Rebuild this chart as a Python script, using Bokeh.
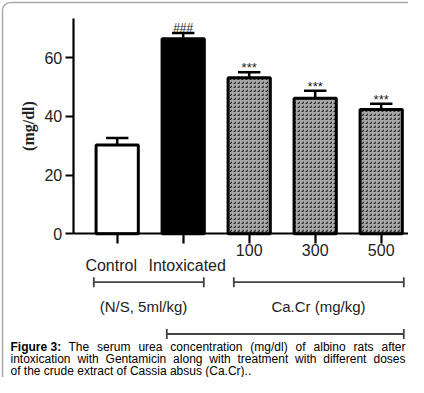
import math
from bokeh.plotting import figure
from bokeh.models import Range1d, LinearAxis, FixedTicker, ColumnDataSource
from bokeh.core.properties import value
from bokeh.embed import file_html
from bokeh.resources import INLINE

# ---------------- data ----------------
groups = ["Control", "Intoxicated", "100", "300", "500"]
means = [30.3, 66.5, 53.2, 46.2, 42.4]
sems = [2.4, 2.0, 1.9, 2.6, 1.9]
marks = ["", "###", "***", "***", "***"]
y_ticks = [0, 20, 40, 60]
y_label = "(mg/dl)"
group_labels = ["(N/S, 5ml/kg)", "Ca.Cr (mg/kg)"]
caption_bold = "Figure 3:"
caption_lines = [
    "The serum urea concentration (mg/dl) of albino rats after",
    "intoxication with Gentamicin along with treatment with different doses",
    "of the crude extract of Cassia absus (Ca.Cr)..",
]

# ---------------- layout (pixel geometry of the canvas) ----------------
W, H = 408, 377
PX_X = 66.0          # px per category step
X0 = 116.7           # px of first category centre
PX_Y = 2.933         # px per mg/dl
Y0 = 233.3           # px (from top) of value 0


def dx(px):
    return (px - X0) / PX_X


def dy(py):
    return (Y0 - py) / PX_Y


FONT = "Liberation Sans"

# Arial / Liberation Sans advance widths (1/1000 em) for caption justification
AW = {" ": 278, "(": 333, ")": 333, ".": 278, ",": 278, "/": 278, ":": 278,
      "a": 556, "b": 556, "c": 500, "d": 556, "e": 556, "f": 278, "g": 556, "h": 556,
      "i": 222, "j": 222, "k": 500, "l": 222, "m": 833, "n": 556, "o": 556, "p": 556,
      "q": 556, "r": 333, "s": 500, "t": 278, "u": 556, "v": 500, "w": 722, "x": 500,
      "y": 500, "z": 500, "A": 667, "C": 722, "G": 778, "T": 611, "F": 611}


def tw(s, size):
    return sum(AW.get(c, 556) for c in s) * size / 1000.0


p = figure(width=W, height=H, output_backend="svg", toolbar_location=None,
           x_axis_location=None, y_axis_location=None, min_border=0,
           x_range=Range1d(dx(0), dx(W)), y_range=Range1d(dy(H), dy(0)),
           outline_line_color=None)
p.grid.grid_line_color = None

# rounded outer frame (only the top/left edges fall inside the canvas)
FR = "#a8a8a8"
p.segment(x0=[dx(10), dx(2)], y0=[dy(2), dy(10)], x1=[dx(W + 5), dx(2)], y1=[dy(2), dy(H + 5)],
          line_color=FR, line_width=1.5)
p.arc(x=[dx(10)], y=[dy(10)], radius=8, radius_units="screen",
      start_angle=math.pi / 2, end_angle=math.pi, line_color=FR, line_width=1.5)

idx = list(range(len(groups)))
fills = ["white", "black", "#a8a8a8", "#a8a8a8", "#a8a8a8"]
hatches = [" ", " ", "right_diagonal_dash", "right_diagonal_dash", "right_diagonal_dash"]
err = [m + s for m, s in zip(means, sems)]
src = ColumnDataSource(dict(x=idx, top=means, fill=fills, hatch=hatches, err=err, mark=marks))

# error bars (upper half)
p.segment(x0="x", y0="top", x1="x", y1="err", source=src, line_color="black", line_width=2.5)
p.segment(x0=[i - 0.17 for i in idx], y0=err, x1=[i + 0.17 for i in idx],
          y1=err, line_color="black", line_width=2.5)

p.vbar(x="x", top="top", bottom=0, width=0.64, source=src, fill_color="fill",
       line_color="black", line_width=3, hatch_pattern="hatch", hatch_color="#1e1e1e",
       hatch_scale=4, hatch_weight=1.2)

# significance marks
hash_i = [i for i in idx if marks[i] == "###"]
star_i = [i for i in idx if marks[i] == "***"]
p.text(x=hash_i, y=[err[i] for i in hash_i], text=[marks[i] for i in hash_i],
       text_font=value(FONT), text_font_size="12px", text_align="center",
       text_baseline="alphabetic", y_offset=-5, text_color="#222222")
p.text(x=star_i, y=[err[i] for i in star_i], text=[marks[i] for i in star_i],
       text_font=value(FONT), text_font_size="13px", text_align="center",
       text_baseline="alphabetic", y_offset=-4.5, text_color="#222222")

# y axis
yax = LinearAxis(fixed_location=dx(72.7), bounds=(0, dy(18.3)),
                 ticker=FixedTicker(ticks=y_ticks),
                 axis_line_width=2.2, axis_line_color="black",
                 major_tick_line_width=2.2, major_tick_out=8, major_tick_in=0,
                 minor_tick_out=0, minor_tick_in=0,
                 major_label_text_font=FONT, major_label_text_font_size="16px",
                 major_label_text_color="#222222", major_label_standoff=3,
                 axis_label=y_label, axis_label_text_font="Liberation Serif",
                 axis_label_text_font_style="bold", axis_label_text_font_size="16px",
                 axis_label_text_color="#222222", axis_label_standoff=5)
p.add_layout(yax, "left")

# x axis
overrides = {i: (g if g.isdigit() else "") for i, g in zip(idx, groups)}
xax = LinearAxis(fixed_location=0, bounds=(dx(72.7), dx(409)),
                 ticker=FixedTicker(ticks=idx), major_label_overrides=overrides,
                 axis_line_width=2.2, axis_line_color="black",
                 major_tick_line_width=2.2, major_tick_out=10, major_tick_in=0,
                 minor_tick_out=0, minor_tick_in=0,
                 major_label_text_font=FONT, major_label_text_font_size="16px",
                 major_label_text_color="#222222", major_label_standoff=0)
p.add_layout(xax, "below")

# word labels under the first two ticks
word_idx = [i for i, g in zip(idx, groups) if not g.isdigit()]
p.text(x=word_idx, y=[dy(264.5)] * len(word_idx), text=[groups[i] for i in word_idx],
       x_offset=[-6, 4], text_font=value(FONT), text_font_size="16px",
       text_align="center", text_baseline="alphabetic", text_color="#222222")

# group brackets
brackets = [(93.3, 203.3, 281.7), (233.3, 403.3, 281.7), (166.3, 403.3, 333.5)]
for x_a, x_b, yb in brackets:
    p.segment(x0=[dx(x_a)], y0=[dy(yb)], x1=[dx(x_b)], y1=[dy(yb)], line_color="#444444", line_width=1.8)
    p.segment(x0=[dx(x_a), dx(x_b)], y0=[dy(yb - 5)] * 2, x1=[dx(x_a), dx(x_b)],
              y1=[dy(yb + 5)] * 2, line_color="#444444", line_width=1.8)
p.text(x=[dx(143), dx(318)], y=[dy(306)] * 2, text=group_labels, text_font=value(FONT),
       text_font_size="15px", text_align="center", text_baseline="alphabetic",
       text_color="#222222")

# caption (lines 1-2 justified, line 3 ragged)
CS = 12.0
base = [346.5, 358.5, 370.3]
starts = [68.0, 10.0, 10.0]
RIGHT = 405.0
p.text(x=[dx(10)], y=[dy(base[0])], text=[caption_bold], text_font=value(FONT),
       text_font_size=f"{CS}px", text_font_style="bold", text_baseline="alphabetic",
       text_color="black")
wx, wy, wt = [], [], []
for li, line in enumerate(caption_lines):
    words = line.split(" ")
    if li < 2:
        natural = sum(tw(w, CS) for w in words)
        gap = (RIGHT - starts[li] - natural) / (len(words) - 1)
    else:
        gap = tw(" ", CS)
    x = starts[li]
    for w in words:
        wx.append(dx(x))
        wy.append(dy(base[li]))
        wt.append(w)
        x += tw(w, CS) + gap
p.text(x=wx, y=wy, text=wt, text_font=value(FONT), text_font_size=f"{CS}px",
       text_baseline="alphabetic", text_color="black")

open("out.html", "w").write(file_html(p, INLINE))
